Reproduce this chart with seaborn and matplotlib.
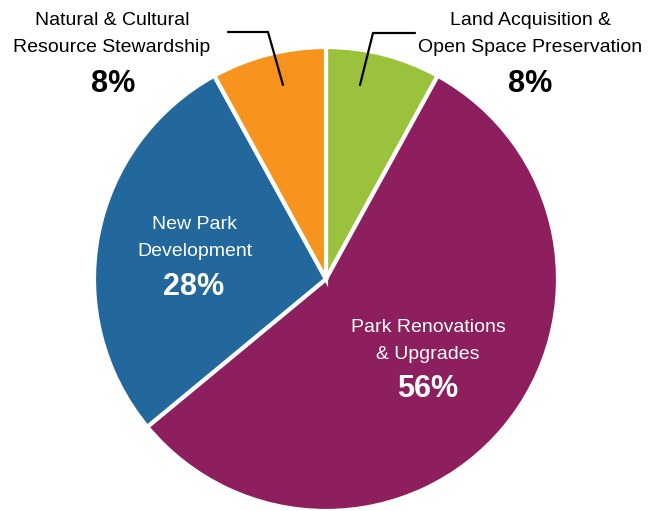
import matplotlib
matplotlib.use("Agg")
import matplotlib.pyplot as plt
import seaborn as sns

# Budget share by category, clockwise from 12 o'clock
categories = ["Land Acquisition &\nOpen Space Preservation",
              "Park Renovations\n& Upgrades",
              "New Park\nDevelopment",
              "Natural & Cultural\nResource Stewardship"]
shares = [8, 56, 28, 8]
colors = ["#9AC23C", "#8E1F5E", "#22689D", "#F7941D"]

sns.set_theme(style="white")
plt.rcParams["font.family"] = ["Liberation Sans Narrow", "Liberation Sans", "DejaVu Sans"]

W, H = 660, 511
fig = plt.figure(figsize=(W / 100, H / 100), dpi=100)
ax = fig.add_axes([0, 0, 1, 1])

cx, cy, r = 326, H - 279, 232
ax.pie(shares, colors=colors, startangle=90, counterclock=False,
       center=(cx, cy), radius=r, frame=True,
       wedgeprops=dict(edgecolor="white", linewidth=3))
ax.set_xlim(0, W)
ax.set_ylim(0, H)
ax.set_aspect("equal")
ax.axis("off")


def Y(y):
    return H - y


LBL = dict(ha="center", va="center", fontsize=14, linespacing=1.7)
PCT = dict(ha="center", va="center", fontsize=22, fontweight="bold")

# outside labels with leader lines
ax.plot([283, 268, 228], [Y(85), Y(32), Y(32)], color="black", lw=1.6)
ax.plot([360, 373, 415], [Y(85), Y(33), Y(33)], color="black", lw=1.6)

ax.text(112, Y(34), categories[3], color="black", **LBL)
ax.text(113, Y(84), f"{shares[3]}%", color="black", **PCT)

ax.text(530, Y(34), categories[0], color="black", **LBL)
ax.text(530, Y(84), f"{shares[0]}%", color="black", **PCT)

# inside labels
ax.text(195, Y(238), categories[2], color="white", **LBL)
ax.text(194, Y(287), f"{shares[2]}%", color="white", **PCT)

ax.text(428, Y(341), categories[1], color="white", **LBL)
ax.text(428, Y(389), f"{shares[1]}%", color="white", **PCT)

fig.savefig("out.png", dpi=100, facecolor="white")
